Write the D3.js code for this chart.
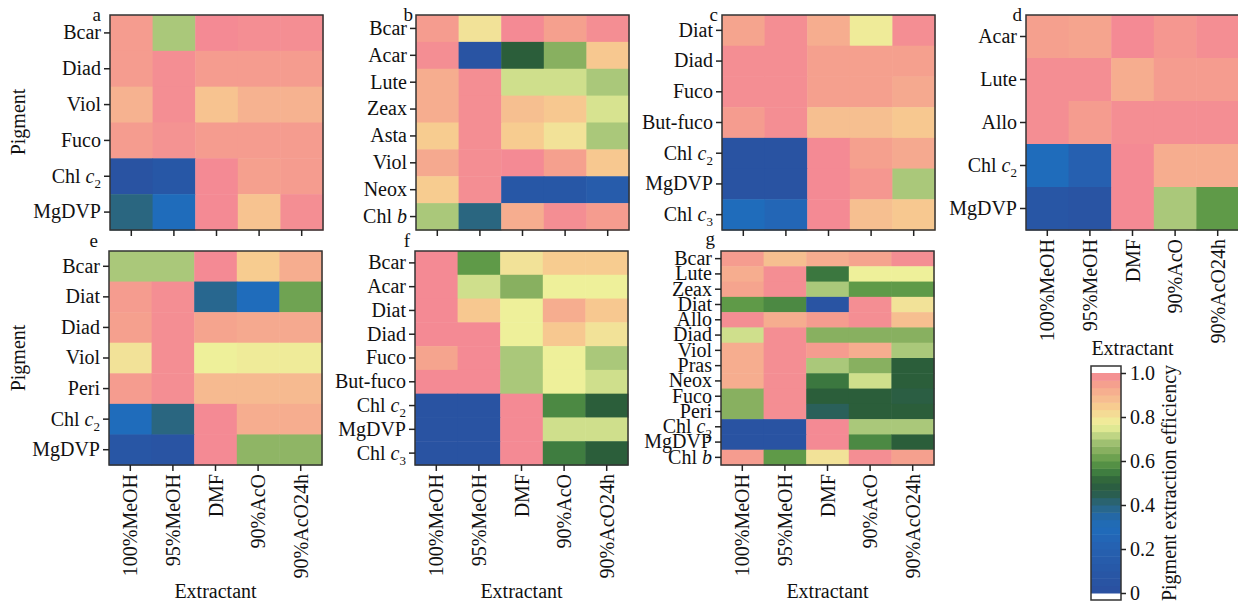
<!DOCTYPE html>
<html>
<head>
<meta charset="utf-8">
<script src="https://cdn.jsdelivr.net/npm/d3@7"></script>
<style>
  body { margin: 0; background: #fff; }
  svg text { font-family: "Liberation Serif", "Times New Roman", serif; fill: #111; }
</style>
</head>
<body>
<div id="chart"></div>
<script>
// extractants shared by every panel
const extractants = ["100%MeOH", "95%MeOH", "DMF", "90%AcO", "90%AcO24h"];

// panel a
const pigmentsA = ["Bcar", "Diad", "Viol", "Fuco", "Chl c2", "MgDVP"];
const valuesA = [
  [0.96, 0.70, 1.00, 0.99, 0.99],
  [0.96, 0.99, 0.96, 0.96, 0.96],
  [0.91, 0.99, 0.87, 0.91, 0.91],
  [0.96, 0.98, 0.96, 0.96, 0.96],
  [0.04, 0.10, 1.00, 0.95, 0.96],
  [0.40, 0.30, 1.00, 0.87, 0.99]
];
// panel b
const pigmentsB = ["Bcar", "Acar", "Lute", "Zeax", "Asta", "Viol", "Neox", "Chl b"];
const valuesB = [
  [0.96, 0.80, 1.00, 0.95, 0.99],
  [0.99, 0.05, 0.50, 0.65, 0.86],
  [0.92, 0.99, 0.73, 0.73, 0.70],
  [0.92, 0.99, 0.88, 0.86, 0.74],
  [0.85, 0.99, 0.85, 0.80, 0.70],
  [0.93, 0.99, 1.00, 0.95, 0.86],
  [0.85, 0.99, 0.10, 0.10, 0.15],
  [0.70, 0.40, 0.92, 0.99, 0.96]
];
// panel c
const pigmentsC = ["Diat", "Diad", "Fuco", "But-fuco", "Chl c2", "MgDVP", "Chl c3"];
const valuesC = [
  [0.94, 0.99, 0.92, 0.78, 0.99],
  [0.99, 0.99, 0.95, 0.95, 0.95],
  [0.99, 0.99, 0.95, 0.95, 0.93],
  [0.96, 0.99, 0.88, 0.88, 0.86],
  [0.04, 0.04, 1.00, 0.95, 0.93],
  [0.04, 0.04, 1.00, 0.97, 0.70],
  [0.30, 0.25, 1.00, 0.88, 0.86]
];
// panel d
const pigmentsD = ["Acar", "Lute", "Allo", "Chl c2", "MgDVP"];
const valuesD = [
  [0.95, 0.94, 1.00, 0.97, 0.99],
  [0.99, 0.99, 0.92, 0.96, 0.96],
  [0.99, 0.96, 0.99, 0.99, 0.99],
  [0.30, 0.20, 1.00, 0.92, 0.92],
  [0.08, 0.05, 1.00, 0.70, 0.60]
];
// panel e
const pigmentsE = ["Bcar", "Diat", "Diad", "Viol", "Peri", "Chl c2", "MgDVP"];
const valuesE = [
  [0.70, 0.70, 1.00, 0.85, 0.92],
  [0.96, 0.99, 0.38, 0.30, 0.62],
  [0.95, 0.99, 0.94, 0.93, 0.93],
  [0.80, 0.99, 0.77, 0.78, 0.78],
  [0.96, 0.99, 0.89, 0.89, 0.89],
  [0.30, 0.40, 1.00, 0.92, 0.92],
  [0.08, 0.05, 1.00, 0.66, 0.66]
];
// panel f
const pigmentsF = ["Bcar", "Acar", "Diat", "Diad", "Fuco", "But-fuco", "Chl c2", "MgDVP", "Chl c3"];
const valuesF = [
  [1.00, 0.60, 0.80, 0.85, 0.85],
  [1.00, 0.73, 0.65, 0.77, 0.77],
  [1.00, 0.86, 0.77, 0.92, 0.86],
  [1.00, 1.00, 0.77, 0.86, 0.80],
  [0.94, 1.00, 0.70, 0.77, 0.70],
  [1.00, 1.00, 0.70, 0.77, 0.73],
  [0.04, 0.04, 1.00, 0.57, 0.50],
  [0.04, 0.04, 1.00, 0.73, 0.73],
  [0.04, 0.04, 1.00, 0.55, 0.50]
];
// panel g
const pigmentsG = ["Bcar", "Lute", "Zeax", "Diat", "Allo", "Diad", "Viol", "Pras", "Neox", "Fuco", "Peri", "Chl c2", "MgDVP", "Chl b"];
const valuesG = [
  [0.96, 0.88, 0.92, 0.94, 0.99],
  [0.92, 0.99, 0.54, 0.77, 0.77],
  [0.94, 0.99, 0.70, 0.60, 0.60],
  [0.60, 0.57, 0.05, 0.99, 0.80],
  [0.99, 0.92, 0.96, 0.99, 0.88],
  [0.73, 0.99, 0.65, 0.65, 0.65],
  [0.92, 0.99, 0.96, 0.92, 0.70],
  [0.92, 0.99, 0.70, 0.65, 0.50],
  [0.92, 0.99, 0.54, 0.73, 0.50],
  [0.65, 0.99, 0.50, 0.50, 0.48],
  [0.65, 0.99, 0.44, 0.50, 0.50],
  [0.04, 0.04, 1.00, 0.70, 0.70],
  [0.04, 0.04, 1.00, 0.57, 0.50],
  [0.96, 0.60, 0.80, 0.99, 0.95]
];

// colour bar stops
const colorStops = [0, 0.1, 0.2, 0.3, 0.35, 0.4, 0.45, 0.5, 0.55, 0.6, 0.65, 0.7, 0.73, 0.77, 0.8, 0.85, 0.9, 0.95, 1.0];
const colorValues = ["#2a50a0", "#2757a6", "#2660b0", "#1f6cbb", "#2468a6", "#2a6680", "#2a5e50", "#2b5e3a", "#3f7d40",
  "#5f9a48", "#88b060", "#aac87a", "#cfdf8c", "#eef09a", "#f2e298", "#f7cc90", "#f6b690", "#f5a08e", "#f48a94"];
const colorTicks = [0, 0.2, 0.4, 0.6, 0.8, 1.0];

const W = 1238, H = 604;
const svg = d3.select("#chart").append("svg").attr("width", W).attr("height", H);

const color = d3.scaleLinear().domain(colorStops).range(colorValues).clamp(true);
const nSteps = 30; // the legend is drawn in bands

// panel letters sit just left of the top corner (above it in the bottom row)
const panels = [
  { id: "a", pig: pigmentsA, vals: valuesA, x: 110, y: 15, h: 215, xlab: false, lx: -9, ly: 6 },
  { id: "b", pig: pigmentsB, vals: valuesB, x: 416, y: 15, h: 215, xlab: false, lx: -3, ly: 6 },
  { id: "c", pig: pigmentsC, vals: valuesC, x: 722, y: 15, h: 215, xlab: false, lx: -4, ly: 6 },
  { id: "d", pig: pigmentsD, vals: valuesD, x: 1026, y: 15, h: 215, xlab: true, titleY: 125, lx: -4, ly: 6 },
  { id: "e", pig: pigmentsE, vals: valuesE, x: 109, y: 251, h: 214, xlab: true, titleY: 133, lx: -11, ly: -4 },
  { id: "f", pig: pigmentsF, vals: valuesF, x: 415, y: 251, h: 214, xlab: true, titleY: 133, lx: -5, ly: -4 },
  { id: "g", pig: pigmentsG, vals: valuesG, x: 721, y: 251, h: 214, xlab: true, titleY: 133, lx: -6, ly: -6 }
];
const pw = 213;
const fs = "20px";

// write "Chl c2" as Chl + italic c + subscript 2
function pigmentLabel(sel, name) {
  const m = name.match(/^Chl ([a-z])(\d?)$/);
  if (!m) { sel.text(name); return; }
  sel.append("tspan").text("Chl ");
  sel.append("tspan").style("font-style", "italic").text(m[1]);
  if (m[2]) sel.append("tspan").attr("dy", 5).style("font-size", "13px").text(m[2]);
}

panels.forEach(p => {
  const g = svg.append("g").attr("transform", `translate(${p.x},${p.y})`);
  const x = d3.scaleBand().domain(extractants).range([0, pw]);
  const y = d3.scaleBand().domain(p.pig).range([0, p.h]);

  const cells = [];
  p.vals.forEach((row, i) => row.forEach((v, j) => cells.push({ r: p.pig[i], c: extractants[j], v })));
  g.selectAll("rect.cell").data(cells).enter().append("rect")
    .attr("class", "cell")
    .attr("x", d => x(d.c))
    .attr("y", d => y(d.r))
    .attr("width", x.bandwidth() + 0.5)
    .attr("height", y.bandwidth() + 0.5)
    .attr("fill", d => color(d.v));

  g.append("rect").attr("width", pw).attr("height", p.h)
    .attr("fill", "none").attr("stroke", "#333").attr("stroke-width", 1.5);

  const yAxis = g.append("g").call(d3.axisLeft(y).tickSize(6).tickFormat(""));
  yAxis.select(".domain").remove();
  yAxis.selectAll(".tick line").attr("stroke", "#222").attr("stroke-width", 1.5);
  yAxis.selectAll(".tick").append("text")
    .attr("x", -9).attr("dy", "0.32em")
    .attr("text-anchor", "end")
    .style("font-size", fs)
    .each(function (d) { pigmentLabel(d3.select(this), d); });

  const xAxis = g.append("g").attr("transform", `translate(0,${p.h})`)
    .call(d3.axisBottom(x).tickSize(6).tickFormat(""));
  xAxis.select(".domain").remove();
  xAxis.selectAll(".tick line").attr("stroke", "#222").attr("stroke-width", 1.5);
  if (p.xlab) {
    xAxis.selectAll(".tick").append("text")
      .attr("transform", "rotate(-90)")
      .attr("x", -9).attr("y", 0).attr("dy", "0.35em")
      .attr("text-anchor", "end")
      .style("font-size", fs)
      .text(d => d);
    g.append("text").attr("x", pw / 2).attr("y", p.h + p.titleY)
      .attr("text-anchor", "middle").style("font-size", fs).text("Extractant");
  }

  g.append("text").attr("x", p.lx).attr("y", p.ly)
    .attr("text-anchor", "end").style("font-size", "19px").text(p.id);
});

// y titles
[122, 358].forEach(cy => {
  svg.append("text").attr("transform", `translate(25,${cy}) rotate(-90)`)
    .attr("text-anchor", "middle").style("font-size", fs).text("Pigment");
});

// colour bar
const cb = { x: 1091, w: 30, top: 366, bottom: 600 };
const cbScale = d3.scaleLinear().domain([0, 1]).range([593, 373]);
const bands = d3.range(nSteps).map(i => i / nSteps);
svg.append("g").selectAll("rect").data(bands).enter().append("rect")
  .attr("x", cb.x)
  .attr("y", d => cbScale(d + 1 / nSteps))
  .attr("width", cb.w)
  .attr("height", cbScale(0) - cbScale(1 / nSteps) + 0.5)
  .attr("fill", d => color(d + 0.5 / nSteps));
svg.append("rect").attr("x", cb.x).attr("y", cb.top).attr("width", cb.w).attr("height", cb.bottom - cb.top)
  .attr("fill", "none").attr("stroke", "#333").attr("stroke-width", 1.5);
const cbAxis = svg.append("g").attr("transform", `translate(${cb.x + cb.w},0)`)
  .call(d3.axisRight(cbScale).tickValues(colorTicks).tickSize(5).tickPadding(4)
    .tickFormat(d => d === 0 ? "0" : d3.format(".1f")(d)));
cbAxis.select(".domain").remove();
cbAxis.selectAll(".tick line").attr("stroke", "#222").attr("stroke-width", 1.5);
cbAxis.selectAll(".tick text").style("font-size", fs)
  .style("font-family", "'Liberation Serif', serif").attr("fill", "#111");
svg.append("text").attr("transform", `translate(1176,${(cb.top + cb.bottom) / 2}) rotate(-90)`)
  .attr("text-anchor", "middle").style("font-size", fs).text("Pigment extraction efficiency");
</script>
</body>
</html>
